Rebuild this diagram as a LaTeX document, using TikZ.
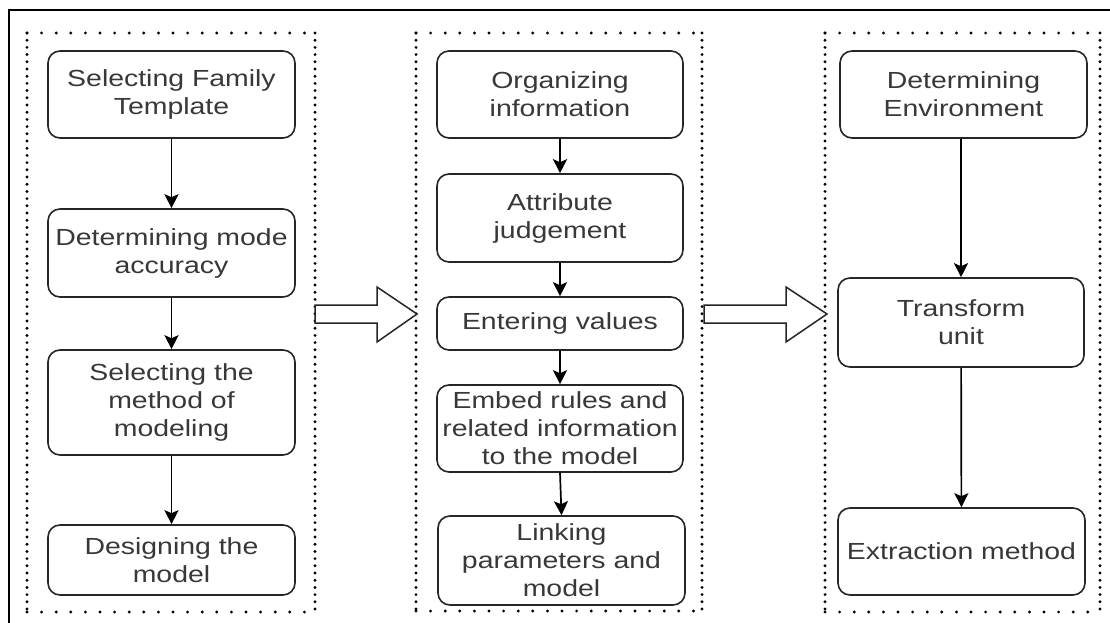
\documentclass[tikz,border=0pt]{standalone}
\usepackage{fontspec}
\setmainfont{Liberation Sans}[FakeStretch=1.22]
\usetikzlibrary{arrows.meta}
\tikzset{
  stepbox/.style={draw=black!85, line width=1.6pt, rounded corners=12pt, align=center,
    text=black!78, inner sep=2pt, font=\fontsize{23.3}{28}\selectfont},
  flow/.style={draw=black, line width=1.7pt, -{Stealth[length=14pt,width=14pt,inset=3pt]}},
  dotsh/.style={line width=3.2pt, line cap=round, dash pattern=on 0pt off 14.6pt},
  dotsv/.style={line width=3.2pt, line cap=round, dash pattern=on 0pt off 7.2pt},
  bigarrow/.style={draw=black!85, line width=1.5pt, fill=white, line join=miter},
}
\newcommand{\dotbox}[4]{%
  \draw[dotsh] (#1,#2) -- (#3,#2);
  \draw[dotsh] (#1,#4) -- (#3,#4);
  \draw[dotsv] (#1,#2) -- (#1,#4);
  \draw[dotsv] (#3,#2) -- (#3,#4);
}
\begin{document}
\begin{tikzpicture}[x=1pt,y=-1pt]
\useasboundingbox (0,0) rectangle (1110,623);
\fill[white] (0,0) rectangle (1110,623);
% outer frame (only top and left edges visible)
\draw[line width=1.8pt] (9,623) -- (9,10) -- (1110,10);

% dotted groups
\dotbox{27}{33}{315}{612}
\dotbox{416}{33}{702}{611}
\dotbox{825}{33}{1100}{612}

% left column
\node[stepbox, minimum width=247pt, minimum height=87pt] (L1) at (171.5,94.5) {Selecting Family\\Template};
\node[stepbox, minimum width=247pt, minimum height=88pt] (L2) at (171.5,253) {Determining mode\\accuracy};
\node[stepbox, minimum width=247pt, minimum height=105pt] (L3) at (171.5,402.5) {Selecting the\\method of\\modeling};
\node[stepbox, minimum width=247pt, minimum height=70pt] (L4) at (171.5,560) {Designing the\\model};

% middle column
\node[stepbox, minimum width=246pt, minimum height=87pt] (M1) at (560,94.5) {Organizing\\information};
\node[stepbox, minimum width=246pt, minimum height=88pt] (M2) at (560,218) {Attribute\\judgement};
\node[stepbox, minimum width=246pt, minimum height=53pt] (M3) at (560,323.5) {Entering values};
\node[stepbox, minimum width=246pt, minimum height=87pt] (M4) at (560,428.5) {Embed rules and\\related information\\to the model};
\node[stepbox, minimum width=247pt, minimum height=89pt] (M5) at (561.5,560.5) {Linking\\parameters and\\model};

% right column
\node[stepbox, minimum width=247pt, minimum height=87pt] (R1) at (963.5,94.5) {Determining\\Environment};
\node[stepbox, minimum width=246pt, minimum height=89pt] (R2) at (961,322.5) {Transform\\unit};
\node[stepbox, minimum width=247pt, minimum height=87pt] (R3) at (961.5,551.5) {Extraction method};

% connectors
\draw[flow] (L1) -- (L2);
\draw[flow] (L2) -- (L3);
\draw[flow] (L3) -- (L4);
\draw[flow] (M1) -- (M2);
\draw[flow] (M2) -- (M3);
\draw[flow] (M3) -- (M4);
\draw[flow] (M4.south) -- (M5.north);
\draw[flow] (R1.south -| R2.north) -- (R2.north);
\draw[flow] (R2) -- (R3);

% block arrows between groups
\coordinate (A1s) at (315,314);
\coordinate (A1t) at (417,314);
\draw[bigarrow] (A1s) ++(0,-9) -- ++(62,0) -- ++(0,-18) -- (A1t) -- ++(-40,28) -- ++(0,-19) -- ++(-62,0) -- cycle;
\coordinate (A2s) at (704,314);
\coordinate (A2t) at (827,314);
\draw[bigarrow] (A2s) ++(0,-9) -- ++(82,0) -- ++(0,-18) -- (A2t) -- ++(-41,28) -- ++(0,-19) -- ++(-82,0) -- cycle;
\end{tikzpicture}
\end{document}
